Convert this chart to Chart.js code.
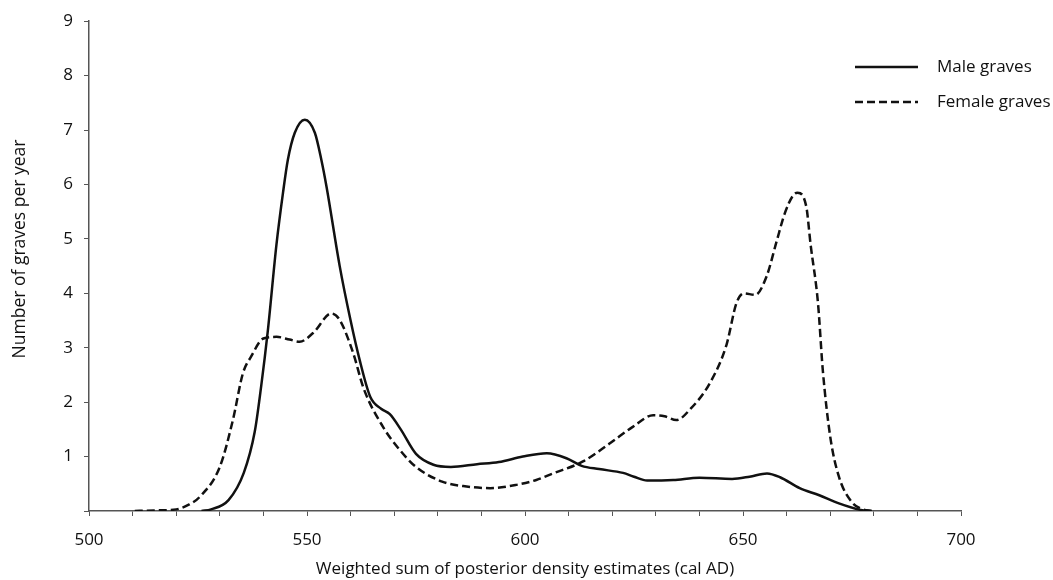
<!DOCTYPE html>
<html>
<head>
<meta charset="utf-8">
<script src="https://cdn.jsdelivr.net/npm/chart.js@4.4.0/dist/chart.umd.min.js"></script>
<style>
body{margin:0;background:#fff;}
#wrap{width:1053px;height:580px;}
</style>
</head>
<body>
<div id="wrap"><canvas id="myChart"></canvas></div>
<script>
// values (cal AD, graves per year)
const maleX = [525.8,528,532,535.5,538,539.5,541,543,544.5,545.6,547.2,549.5,551.8,553.3,554.5,557.5,560,562,564.5,567,569,571.5,575,579,583,589,594,599.5,605,609.5,613,617,622.5,625,628,634,640,647.5,651.5,655.5,658.5,663,667.5,672,677,679.5];
const maleY = [0,0.03,0.2,0.7,1.45,2.3,3.3,4.9,5.85,6.45,6.95,7.19,6.95,6.45,5.95,4.5,3.5,2.8,2.1,1.88,1.78,1.5,1.05,0.85,0.81,0.86,0.9,1.0,1.06,0.97,0.83,0.77,0.7,0.63,0.56,0.57,0.61,0.59,0.63,0.69,0.62,0.42,0.29,0.14,0.02,0];

const femaleX = [510.5,515,520,523,525.4,530,533,535.3,537.2,540,543,546,548.3,551.4,555.6,557.5,560.6,563,567.4,571.3,575,581,586.6,592,598,602.6,606.4,613.3,619.4,624.8,629.4,632,634.7,638,642.4,646.2,648.5,650.2,652.8,655.4,657.7,659.5,661.5,662.5,664.5,665.5,667.2,668.3,670,672,675,677.5,679.5];
const femaleY = [0,0.01,0.03,0.12,0.26,0.81,1.67,2.53,2.84,3.17,3.2,3.15,3.11,3.27,3.63,3.51,2.9,2.25,1.55,1.12,0.81,0.54,0.45,0.42,0.48,0.57,0.69,0.91,1.24,1.55,1.76,1.74,1.67,1.88,2.35,3.05,3.82,4.0,3.97,4.31,4.95,5.45,5.8,5.85,5.6,4.9,3.82,2.59,1.37,0.63,0.16,0.03,0];

const xLabels = [500,550,600,650,700];
const yLabels = [1,2,3,4,5,6,7,8,9];

const FONT = '"Open Sans", "DejaVu Sans", sans-serif';
const INK = '#111';
const AXIS = '#555';

function pts(xs, ys){ return xs.map((x,i)=>({x:x, y:ys[i]})); }

// legend at top right and rotated y title
const extras = {
  id: 'extras',
  afterDraw(chart){
    const ctx = chart.ctx;
    chart.data.datasets.forEach((ds,i)=>{
      const y = 67 + i*35;
      ctx.save();
      ctx.strokeStyle = ds.borderColor;
      ctx.lineWidth = ds.borderWidth;
      ctx.setLineDash(ds.borderDash || []);
      ctx.beginPath(); ctx.moveTo(855,y); ctx.lineTo(918,y); ctx.stroke();
      ctx.setLineDash([]);
      ctx.fillStyle = INK;
      ctx.font = '17px ' + FONT;
      ctx.textBaseline = 'middle';
      ctx.fillText(ds.label, 937, y);
      ctx.restore();
    });
    ctx.save();
    ctx.translate(20, 249);
    ctx.rotate(-Math.PI/2);
    ctx.fillStyle = INK;
    ctx.font = '17.5px ' + FONT;
    ctx.textAlign = 'center';
    ctx.textBaseline = 'middle';
    ctx.fillText('Number of graves per year', 0, 0);
    ctx.restore();
  }
};

var ctx = document.getElementById('myChart').getContext('2d');
var myChart = new Chart(ctx, {
  type: 'line',
  data: {
    datasets: [{
      label: 'Male graves',
      data: pts(maleX, maleY),
      borderColor: INK,
      borderWidth: 2.5,
      pointRadius: 0,
      cubicInterpolationMode: 'monotone',
      fill: false
    },{
      label: 'Female graves',
      data: pts(femaleX, femaleY),
      borderColor: INK,
      borderWidth: 2.5,
      borderDash: [8,4],
      pointRadius: 0,
      cubicInterpolationMode: 'monotone',
      fill: false
    }]
  },
  options: {
    responsive: true,
    maintainAspectRatio: false,
    animation: false,
    layout: { padding: { top: 21, right: 92, left: 0, bottom: 0 } },
    plugins: { legend: { display: false }, tooltip: { enabled: false } },
    scales: {
      x: {
        type: 'linear',
        min: 500, max: 700,
        afterFit: s => { s.height = 69; },
        border: { color: AXIS, width: 1.5 },
        grid: { drawOnChartArea: false, color: AXIS, tickLength: 5 },
        ticks: {
          stepSize: 10,
          padding: 14,
          color: INK,
          font: { family: FONT, size: 17 },
          maxRotation: 0,
          autoSkip: false,
          callback: v => xLabels.includes(v) ? String(v) : ''
        },
        title: {
          display: true,
          text: 'Weighted sum of posterior density estimates (cal AD)',
          color: INK,
          font: { family: FONT, size: 17 },
          padding: { top: 0, bottom: 1 }
        }
      },
      y: {
        min: 0, max: 9,
        afterFit: s => { s.width = 89; },
        border: { color: AXIS, width: 1.5 },
        grid: { drawOnChartArea: false, color: AXIS, tickLength: 5 },
        ticks: {
          stepSize: 1,
          padding: 11,
          color: INK,
          font: { family: FONT, size: 17 },
          callback: v => yLabels.includes(v) ? String(v) : ''
        }
      }
    }
  },
  plugins: [extras]
});
</script>
</body>
</html>
